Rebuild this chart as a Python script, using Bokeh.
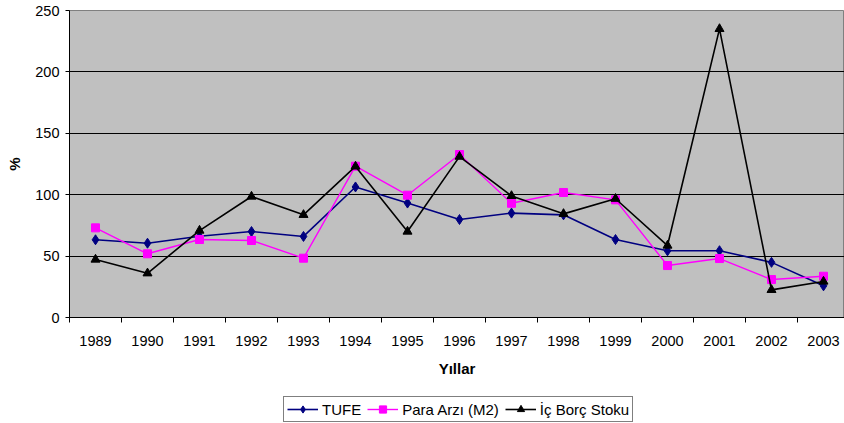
from bokeh.plotting import figure
from bokeh.layouts import column
from bokeh.models import (Range1d, FixedTicker, Legend, LegendItem, ColumnDataSource)
from bokeh.embed import file_html
from bokeh.resources import INLINE

years = ["1989", "1990", "1991", "1992", "1993", "1994", "1995", "1996",
         "1997", "1998", "1999", "2000", "2001", "2002", "2003"]
tufe = [63.3, 60.5, 66.2, 70.0, 66.0, 106.3, 93.2, 79.8, 85.0, 83.6, 63.5, 54.3, 54.4, 44.9, 25.8]
para = [73.0, 51.9, 63.5, 62.7, 48.3, 123.2, 99.6, 132.7, 93.0, 101.8, 95.8, 42.3, 48.0, 30.9, 33.6]
borc = [47.2, 36.0, 70.8, 98.5, 83.6, 123.0, 70.0, 131.0, 99.0, 84.4, 96.7, 58.6, 235.0, 22.5, 29.3]
y_ticks = [0, 50, 100, 150, 200, 250]
series = [("TUFE", "tufe", "#000080", "diamond", 10, 1.6),
          ("Para Arzı (M2)", "para", "#FF00FF", "square", 8, 1.4),
          ("İç Borç Stoku", "borc", "#000000", "triangle", 9, 1.6)]

xs = list(range(len(years)))
src = ColumnDataSource(dict(x=xs, tufe=tufe, para=para, borc=borc))

W = 844
H1 = 388
H2 = 423 - H1
LEFT, TOP, BOTTOM_Y = 69, 10, 317
SCALE = 52.0
p = figure(width=W, height=H1, output_backend="svg", toolbar_location=None,
           x_range=Range1d(-0.5, -0.5 + (W - LEFT) / SCALE), y_range=Range1d(0, 250),
           min_border_left=LEFT, min_border_right=0, min_border_top=TOP,
           min_border_bottom=H1 - BOTTOM_Y)

p.background_fill_color = "#C0C0C0"
p.border_fill_color = "white"
p.outline_line_color = "#808080"
p.outline_line_width = 1

# x axis
xa = p.xaxis[0]
xa.ticker = FixedTicker(ticks=xs, minor_ticks=[i - 0.5 for i in range(len(years) + 1)])
xa.major_label_overrides = {i: y for i, y in enumerate(years)}
xa.major_tick_line_color = None
xa.major_tick_out = 5
xa.major_tick_in = 0
xa.minor_tick_line_color = "black"
xa.minor_tick_out = 5
xa.minor_tick_in = 0
xa.axis_line_color = "black"
xa.major_label_text_font = "Liberation Sans"
xa.major_label_text_font_size = "14.5px"
xa.major_label_text_color = "black"
xa.major_label_standoff = 13
xa.axis_label = "Yıllar"
xa.axis_label_text_font = "Liberation Sans"
xa.axis_label_text_font_size = "15px"
xa.axis_label_text_font_style = "bold"
xa.axis_label_text_color = "black"
xa.axis_label_standoff = 11

# y axis
ya = p.yaxis[0]
ya.ticker = FixedTicker(ticks=y_ticks)
ya.major_tick_line_color = "black"
ya.major_tick_out = 4
ya.major_tick_in = 0
ya.minor_tick_line_color = None
ya.axis_line_color = "black"
ya.major_label_text_font = "Liberation Sans"
ya.major_label_text_font_size = "14.5px"
ya.major_label_text_color = "black"
ya.major_label_standoff = 6
ya.axis_label = "%"
ya.axis_label_text_font = "Liberation Sans"
ya.axis_label_text_font_size = "15px"
ya.axis_label_text_font_style = "bold"
ya.axis_label_text_color = "black"
ya.axis_label_standoff = 9

p.xgrid.visible = False
p.ygrid.ticker = FixedTicker(ticks=[50, 100, 150, 200])
p.ygrid.grid_line_color = "black"
p.ygrid.grid_line_width = 1

for label, col, color, marker, size, lw in series:
    p.line("x", col, source=src, line_color=color, line_width=lw)
    p.scatter("x", col, source=src, marker=marker, size=size,
              fill_color=color, line_color=color)

# legend strip below the chart (its glyphs sit outside the visible range)
q = figure(width=W, height=H2, output_backend="svg", toolbar_location=None,
           x_range=Range1d(1000, 1001), y_range=Range1d(0, 250),
           min_border_left=0, min_border_right=0, min_border_top=0, min_border_bottom=0)
q.axis.visible = False
q.grid.visible = False
q.outline_line_color = None
q.background_fill_color = "white"
q.border_fill_color = "white"
items = []
for label, col, color, marker, size, lw in series:
    r1 = q.line("x", col, source=src, line_color=color, line_width=lw)
    r2 = q.scatter("x", col, source=src, marker=marker, size=size - 2,
                   fill_color=color, line_color=color)
    items.append(LegendItem(label=label, renderers=[r1, r2]))

# the strip's frame is aligned with the chart's frame (left edge at LEFT)
legend = Legend(items=items, orientation="horizontal", location=(283 - LEFT, 1))
legend.padding = 3
legend.margin = 0
legend.spacing = 6
legend.glyph_width = 31
legend.glyph_height = 18
legend.label_height = 18
legend.label_standoff = 4
legend.label_text_font = "Liberation Sans"
legend.label_text_font_size = "15px"
legend.label_text_color = "black"
legend.border_line_color = "black"
legend.border_line_width = 1
legend.background_fill_color = "white"
legend.background_fill_alpha = 1
q.add_layout(legend, "center")

layout = column(p, q, spacing=0)
open("out.html", "w").write(file_html(layout, INLINE))
